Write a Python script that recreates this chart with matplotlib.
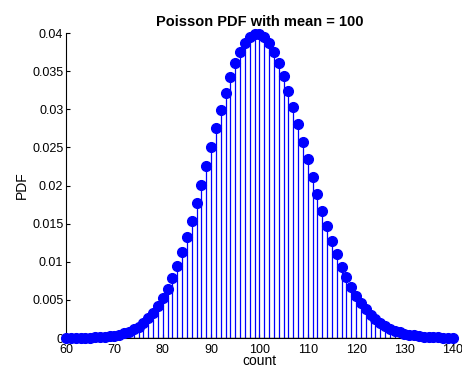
import matplotlib
matplotlib.use("Agg")
import matplotlib.pyplot as plt

counts = list(range(60, 141))
pdf = [
    0.0000045, 0.0000073, 0.0000118, 0.0000188, 0.0000293, 0.0000451, 0.0000683, 0.000102, 0.000150, 0.000217,
    0.000311, 0.000437, 0.000608, 0.000832, 0.001125, 0.001500, 0.001973, 0.002562, 0.003285, 0.004158,
    0.005198, 0.006417, 0.007826, 0.009428, 0.011224, 0.013205, 0.015355, 0.017649, 0.020056, 0.022535,
    0.025039, 0.027515, 0.029908, 0.032159, 0.034212, 0.036013, 0.037513, 0.038673, 0.039462, 0.039861,
    0.039861, 0.039466, 0.038692, 0.037565, 0.036120, 0.034400, 0.032453, 0.030330, 0.028083, 0.025764,
    0.023422, 0.021101, 0.018840, 0.016673, 0.014625, 0.012718, 0.010964, 0.009371, 0.007941, 0.006673,
    0.005561, 0.004596, 0.003767, 0.003063, 0.002470, 0.001976, 0.001568, 0.001235, 0.000965, 0.000748,
    0.000575, 0.000439, 0.000333, 0.000250, 0.000187, 0.000138, 0.000102, 0.0000743, 0.0000538, 0.0000387,
    0.0000277,
]
xticks = [60, 70, 80, 90, 100, 110, 120, 130, 140]
yticks = [0, 0.005, 0.01, 0.015, 0.02, 0.025, 0.03, 0.035, 0.04]
yticklabels = ["0", "0.005", "0.01", "0.015", "0.02", "0.025", "0.03", "0.035", "0.04"]

plt.rcParams['font.family'] = ['Liberation Sans', 'DejaVu Sans']
fig = plt.figure(figsize=(4.62, 3.67), dpi=100)
ax = fig.add_axes([0.143, 0.079, 0.837, 0.831])

ml, sl, bl = ax.stem(counts, pdf, linefmt='b-', markerfmt='bo', basefmt='k-')
plt.setp(sl, linewidth=0.9)
plt.setp(ml, markersize=7.0, clip_on=False, zorder=3)
plt.setp(bl, linewidth=1.0)

ax.set_xlim(60, 140)
ax.set_ylim(0, 0.04)
ax.set_xticks(xticks)
ax.set_yticks(yticks)
ax.set_yticklabels(yticklabels)
ax.spines['top'].set_visible(False)
ax.spines['right'].set_visible(False)
ax.tick_params(direction='in', length=3, labelsize=9)
ax.tick_params(axis='x', pad=4)
ax.tick_params(axis='y', pad=2)
ax.set_title("Poisson PDF with mean = 100", fontsize=10.5, fontweight='bold', pad=5)
ax.set_xlabel("count", fontsize=10, labelpad=-1)
ax.set_ylabel("PDF", fontsize=10, labelpad=2)

fig.savefig("out.png", dpi=100)
